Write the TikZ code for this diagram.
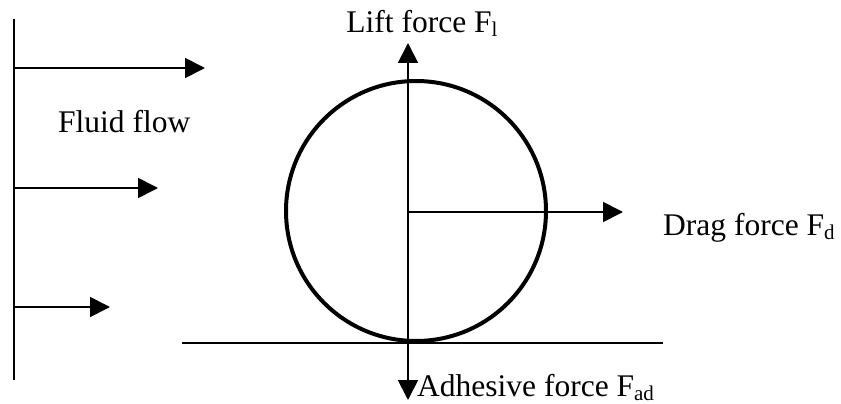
\documentclass[tikz,border=0pt]{standalone}
\usepackage{fontspec}
\setmainfont{Liberation Serif}
\usetikzlibrary{arrows.meta}
\newcommand{\forcesub}[1]{\raisebox{-4pt}{\fontsize{21}{24}\selectfont #1}}

\begin{document}
\begin{tikzpicture}[x=1pt, y=-1pt,
  line/.style={draw=black, line width=1.8pt},
  arrow/.style={line, -{Triangle[length=20pt, width=20pt]}},
  ball/.style={draw=black, line width=4pt, circle,
               minimum size=260pt, inner sep=0pt},
  txt/.style={font=\fontsize{31.5}{36}\selectfont, inner sep=0pt},
]
\useasboundingbox (0,0) rectangle (841,404);

% ---- Wall and ground ----
\coordinate (wtop) at (14,19);
\coordinate (wbot) at (14,380);
\coordinate (gl)   at (182,343);
\coordinate (gr)   at (663,343);
\draw[line] (wtop) -- (wbot);
\draw[line] (gl) -- (gr);

% ---- Fluid flow arrows ----
\foreach \i/\y/\tip in {1/68/205, 2/188/158, 3/307/110} {
  \coordinate (fs\i) at (14,\y);
  \coordinate (ft\i) at (\tip,\y);
  \draw[arrow] (fs\i) -- (ft\i);
}
\node[txt, anchor=base west] (flow) at (58,132) {Fluid flow};

% ---- Particle ----
\node[ball] (ball) at (416,211) {};

% ---- Forces ----
\coordinate (o)    at (408,212);
\coordinate (lift) at (408,43);
\coordinate (adh)  at (408,400);
\coordinate (drag) at (623,212);
\draw[arrow] (o) -- (lift);
\draw[arrow] (o) -- (adh);
\draw[arrow] (o) -- (drag);

\node[txt, anchor=base] (liftlbl) at (422,33) {Lift force F\forcesub{l}};
\node[txt, anchor=base west] (adhlbl) at (417,396) {Adhesive force F\forcesub{ad}};
\node[txt, anchor=base west] (draglbl) at (663,235) {Drag force F\forcesub{d}};
\end{tikzpicture}
\end{document}
